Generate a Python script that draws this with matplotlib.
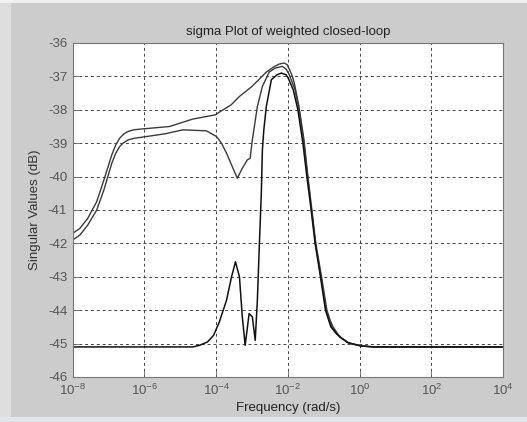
import numpy as np
import matplotlib
matplotlib.use("Agg")
import matplotlib.pyplot as plt
from matplotlib.patches import Rectangle
from matplotlib.ticker import FixedLocator, NullLocator

# log10(frequency) and singular values (dB)
logw_a = [-8.0, -7.80, -7.58, -7.33, -7.13, -6.91, -6.80, -6.69, -6.57, -6.46, -6.30, -6.13,
          -5.30, -4.66, -4.02, -3.91, -3.58, -3.35, -3.00, -2.60, -2.40, -2.24, -2.10, -2.02,
          -1.96, -1.88, -1.82, -1.69, -1.55, -1.44, -1.33, -1.22, -1.06, -0.91, -0.82, -0.74,
          -0.60, -0.49, -0.27, 0.06, 0.40, 4.0]
sv_a = [-41.7, -41.55, -41.25, -40.75, -40.1, -39.35, -39.05, -38.85, -38.72, -38.65, -38.6, -38.58,
        -38.5, -38.28, -38.15, -38.07, -37.85, -37.6, -37.3, -36.87, -36.72, -36.63, -36.6, -36.65,
        -36.78, -36.98, -37.2, -37.9, -38.9, -40.0, -41.0, -42.0, -43.0, -44.0, -44.3, -44.5,
        -44.72, -44.85, -45.0, -45.07, -45.1, -45.1]

logw_b = [-8.0, -7.80, -7.58, -7.33, -7.13, -6.91, -6.80, -6.69, -6.60, -6.45, -6.27, -5.94,
          -5.43, -4.93, -4.27, -3.99, -3.85, -3.71, -3.55, -3.41, -3.27, -3.13, -3.05, -2.99,
          -2.85, -2.71, -2.52, -2.35, -2.16, -2.05, -1.96, -1.80, -1.69, -1.55, -1.45, -1.34,
          -1.23, -1.08, -0.94, -0.85, -0.77, -0.62, -0.52, -0.30, 0.06, 0.40, 4.0]
sv_b = [-41.9, -41.75, -41.45, -41.0, -40.4, -39.6, -39.3, -39.1, -39.0, -38.9, -38.85, -38.8,
        -38.72, -38.6, -38.63, -38.8, -39.0, -39.3, -39.7, -40.05, -39.75, -39.5, -39.45, -38.9,
        -37.9, -37.3, -36.87, -36.75, -36.7, -36.78, -36.95, -37.4, -38.0, -39.0, -40.0, -41.0,
        -42.0, -43.0, -44.0, -44.3, -44.5, -44.72, -44.82, -44.98, -45.07, -45.1, -45.1]

logw_c = [-8.0, -4.65, -4.46, -4.24, -4.07, -3.91, -3.71, -3.57, -3.46, -3.35, -3.27, -3.19,
          -3.08, -2.99, -2.91, -2.85, -2.80, -2.74, -2.71, -2.67, -2.60, -2.46, -2.30, -2.18,
          -2.05, -1.99, -1.85, -1.72, -1.58, -1.47, -1.35, -1.24, -1.09, -0.95, -0.86, -0.80,
          -0.65, -0.55, -0.33, 0.03, 0.40, 4.0]
sv_c = [-45.1, -45.1, -45.05, -44.95, -44.75, -44.35, -43.7, -43.0, -42.55, -43.0, -44.2, -45.05,
        -44.1, -44.2, -44.9, -43.7, -42.2, -40.5, -39.2, -38.6, -37.9, -37.1, -36.95, -36.9,
        -36.95, -37.05, -37.4, -38.0, -39.0, -40.0, -41.0, -42.0, -43.0, -44.0, -44.3, -44.5,
        -44.7, -44.8, -44.97, -45.07, -45.1, -45.1]

title = "sigma Plot of weighted closed-loop"
xlabel = "Frequency (rad/s)"
ylabel = "Singular Values (dB)"
yticks = list(range(-46, -35))
xtick_exps = [-8, -6, -4, -2, 0, 2, 4]

plt.rcParams['font.family'] = ['Liberation Sans', 'DejaVu Sans']
plt.rcParams['mathtext.fontset'] = 'custom'
plt.rcParams['mathtext.rm'] = 'Liberation Sans'
plt.rcParams['mathtext.it'] = 'Liberation Sans'

W, H = 527, 422
fig = plt.figure(figsize=(W / 100, H / 100), dpi=100, facecolor='#cccccc')
# screenshot border strips
fig.patches.append(Rectangle((0, 0), 11 / W, 1, transform=fig.transFigure,
                             facecolor='#dedede', edgecolor='none', zorder=-1))
fig.patches.append(Rectangle((0, 1 - 3 / H), 1, 3 / H, transform=fig.transFigure,
                             facecolor='#f0f0f0', edgecolor='none', zorder=-1))
fig.patches.append(Rectangle((0, 0), 1, 5 / H, transform=fig.transFigure,
                             facecolor='#dfe6ee', edgecolor='none', zorder=-1))

ax = fig.add_axes([72.7 / W, 1 - 377 / H, (503 - 72.7) / W, (377 - 43) / H])
ax.set_facecolor('white')

ax.plot(10 ** np.array(logw_a), sv_a, color='#3a3a3a', lw=1.0)
ax.plot(10 ** np.array(logw_b), sv_b, color='#3a3a3a', lw=1.0)
ax.plot(10 ** np.array(logw_c), sv_c, color='#111111', lw=1.1)

ax.set_xscale('log')
ax.set_xlim(1e-8, 1e4)
ax.set_ylim(-46, -36)
ax.xaxis.set_major_locator(FixedLocator([10.0 ** e for e in xtick_exps]))
ax.xaxis.set_minor_locator(NullLocator())
ax.set_xticklabels([r'$10^{%d}$' % e for e in xtick_exps])
ax.set_yticks(yticks)
ax.set_yticklabels([str(v) for v in yticks])

ax.grid(True, which='major', color='#444444', linestyle=(0, (3, 3)), linewidth=0.7)
ax.tick_params(direction='in', length=4, width=0.6, colors='#666666',
               labelcolor='#555555', labelsize=9.5, pad=4)
for s in ax.spines.values():
    s.set_color('#777777')
    s.set_linewidth(0.8)

ax.set_title(title, fontsize=9.5, color='#222222', pad=6)
ax.set_xlabel(xlabel, fontsize=9.5, color='#222222', labelpad=3)
ax.set_ylabel(ylabel, fontsize=9.5, color='#333333', labelpad=5)

fig.savefig('out.png', dpi=100, facecolor=fig.get_facecolor())
